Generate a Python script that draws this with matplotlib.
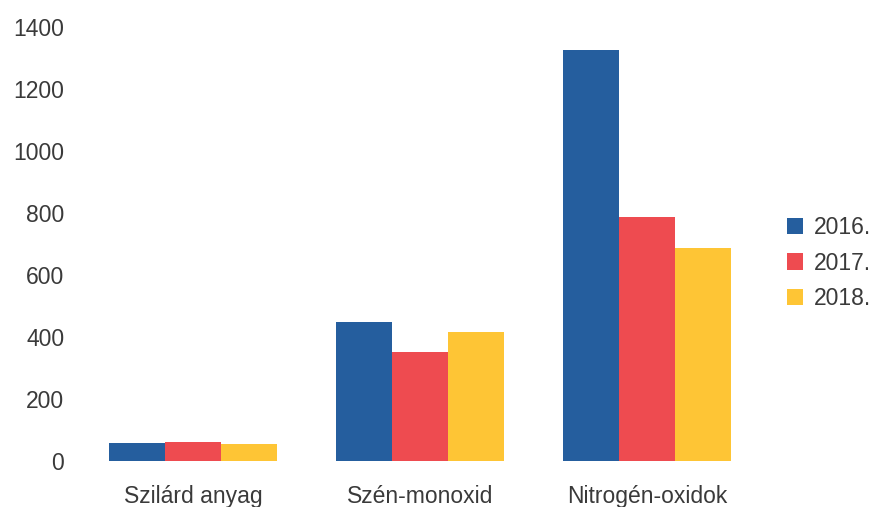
import matplotlib.pyplot as plt
import numpy as np

categories = ["Szilárd anyag", "Szén-monoxid", "Nitrogén-oxidok"]
years = ["2016.", "2017.", "2018."]
v2016 = [58, 448, 1326]
v2017 = [61, 352, 787]
v2018 = [56, 416, 687]
yticks = [0, 200, 400, 600, 800, 1000, 1200, 1400]

colors = ["#255E9E", "#EE4B50", "#FEC535"]
txt = "#3a3a3a"

plt.rcParams['font.family'] = ['Liberation Sans', 'DejaVu Sans']

fig = plt.figure(figsize=(8.77, 5.07), dpi=100)
ax = fig.add_axes([79.5 / 877, 46 / 507, 681 / 877, 434 / 507])

x = np.arange(len(categories))
w = 0.247
for i, (vals, lab) in enumerate(zip([v2016, v2017, v2018], years)):
    ax.bar(x + (i - 1) * w, vals, width=w, color=colors[i], label=lab)

ax.set_xlim(-0.5, 2.5)
ax.set_ylim(0, 1400)
ax.set_yticks(yticks)
ax.set_xticks(x)
ax.set_xticklabels(categories, fontsize=17.5)
ax.tick_params(length=0, labelsize=16.5, colors=txt)
ax.tick_params(axis='y', pad=11)
ax.tick_params(axis='x', pad=17)
for s in ax.spines.values():
    s.set_visible(False)

fig.legend(loc='center left', bbox_to_anchor=(766 / 877, 1 - 263 / 507),
           frameon=False, fontsize=16.5, handlelength=0.7, handleheight=0.7,
           handletextpad=0.5, labelspacing=0.55, labelcolor=txt)

fig.savefig("out.png", dpi=100)
